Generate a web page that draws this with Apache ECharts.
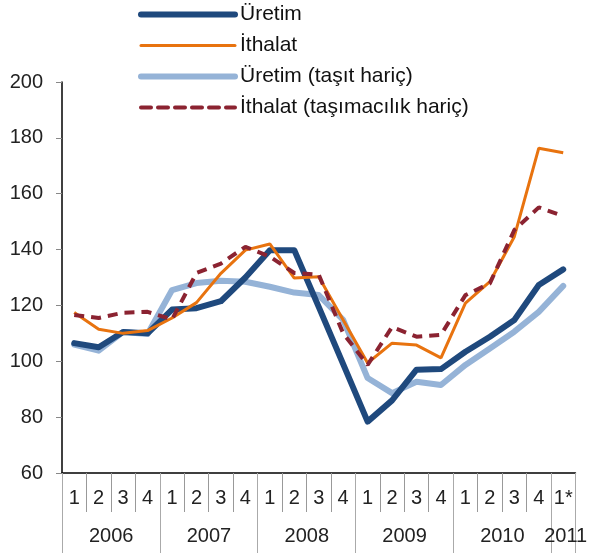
<!DOCTYPE html>
<html>
<head>
<meta charset="utf-8">
<script src="https://cdn.jsdelivr.net/npm/echarts@6/dist/echarts.min.js"></script>
<style>
  html, body { margin: 0; padding: 0; background: #fff; }
  #chart { width: 590px; height: 554px; }
</style>
</head>
<body>
<div id="chart"></div>
<script>
// Çeyrekler 2006Ç1 – 2011Ç1
const quarters = ['1','2','3','4','1','2','3','4','1','2','3','4','1','2','3','4','1','2','3','4','1*'];
const years = ['2006','2006','2006','2006','2007','2007','2007','2007','2008','2008','2008','2008',
               '2009','2009','2009','2009','2010','2010','2010','2010','2011'];

const uretim = [106.5, 105, 110.5, 110, 118.5, 119, 121.5, 130, 139.8, 139.8, 119.5,
                99, 78.4, 86, 97, 97.2, 103.4, 108.8, 114.8, 127.3, 132.9];
const ithalat = [117.5, 111.5, 110, 111, 115.5, 121, 131.5, 139.8, 142, 129.8, 130.3,
                 114.8, 99.4, 106.5, 105.8, 101.2, 120.8, 128.5, 144.6, 176.3, 174.7];
const uretimTasitHaric = [106, 103.8, 110.5, 109.8, 125.5, 128, 128.8, 128.5, 126.7, 124.6, 123.7,
                          114.8, 94, 88.6, 92.7, 91.5, 98.7, 104.6, 110.6, 117.7, 127];
const ithalatTasHaric = [116.6, 115.5, 117.4, 117.7, 115, 131.6, 135, 141, 137.5, 131.6, 131,
                         110, 98.7, 112.3, 108.8, 109.5, 123.7, 127.9, 147, 155.1, 152];

const FONT = '"Liberation Sans", Arial, sans-serif';

const chart = echarts.init(document.getElementById('chart'), null, { renderer: 'canvas' });

chart.setOption({
  backgroundColor: '#fff',
  animation: false,
  textStyle: { fontFamily: FONT },
  legend: {
    orient: 'vertical',
    left: 138,
    top: 4,
    padding: 0,
    itemWidth: 94,
    itemHeight: 14,
    itemGap: 10,
    // sembol gizli, çizgi kalınlığı seriden
    itemStyle: { opacity: 0 },
    lineStyle: { width: 'inherit', cap: 'round' },
    textStyle: { fontSize: 21, color: '#111', lineHeight: 21, fontFamily: FONT },
    data: ['Üretim', 'İthalat', 'Üretim (taşıt hariç)', 'İthalat (taşımacılık hariç)'],
  },
  grid: { left: 62, right: 5, top: 82, bottom: 81 },
  xAxis: [
    {
      type: 'category',
      data: quarters,
      boundaryGap: true,
      axisLine: { lineStyle: { color: '#000', width: 1.5 } },
      axisTick: { show: true, interval: 0, length: 39, lineStyle: { color: '#999' } },
      axisLabel: { interval: 0, fontSize: 20, color: '#222', margin: 15, fontFamily: FONT },
    },
    {
      type: 'category',
      data: years,
      position: 'bottom',
      boundaryGap: true,
      axisLine: { show: false },
      axisTick: {
        show: true,
        interval: (i) => i % 4 === 0 || i === 20,
        length: 80,
        lineStyle: { color: '#aaa' },
      },
      axisLabel: {
        interval: (i) => i === 1 || i === 5 || i === 9 || i === 13 || i === 17 || i === 20,
        formatter: (v, i) => (i === 20 ? `{b|${v}}` : `{a|${v}}`),
        margin: 53,
        rich: {
          a: { fontSize: 20, color: '#222', padding: [0, 0, 0, 25], fontFamily: FONT },
          b: { fontSize: 20, color: '#222', padding: [0, 0, 0, 5], fontFamily: FONT },
        },
      },
    },
  ],
  yAxis: {
    type: 'value',
    min: 60,
    max: 200,
    interval: 20,
    axisLine: { show: true, lineStyle: { color: '#000', width: 1.5 } },
    axisTick: { show: true, length: 6, lineStyle: { color: '#888' } },
    axisLabel: { fontSize: 20, color: '#222', margin: 19, fontFamily: FONT },
    splitLine: { show: false },
  },
  series: [
    {
      name: 'Üretim (taşıt hariç)',
      type: 'line',
      data: uretimTasitHaric,
      symbol: 'none',
      lineStyle: { width: 6, color: '#95b3d7', cap: 'round', join: 'round' },
      itemStyle: { color: '#95b3d7' },
      z: 2,
    },
    {
      name: 'Üretim',
      type: 'line',
      data: uretim,
      symbol: 'none',
      lineStyle: { width: 6, color: '#1f497d', cap: 'round', join: 'round' },
      itemStyle: { color: '#1f497d' },
      z: 3,
    },
    {
      name: 'İthalat',
      type: 'line',
      data: ithalat,
      symbol: 'none',
      lineStyle: { width: 3, color: '#e8730f' },
      itemStyle: { color: '#e8730f' },
      z: 4,
    },
    {
      name: 'İthalat (taşımacılık hariç)',
      type: 'line',
      data: ithalatTasHaric,
      symbol: 'none',
      lineStyle: { width: 4, color: '#8b2331', type: [10, 7] },
      itemStyle: { color: '#8b2331' },
      z: 5,
    },
  ],
});
</script>
</body>
</html>
